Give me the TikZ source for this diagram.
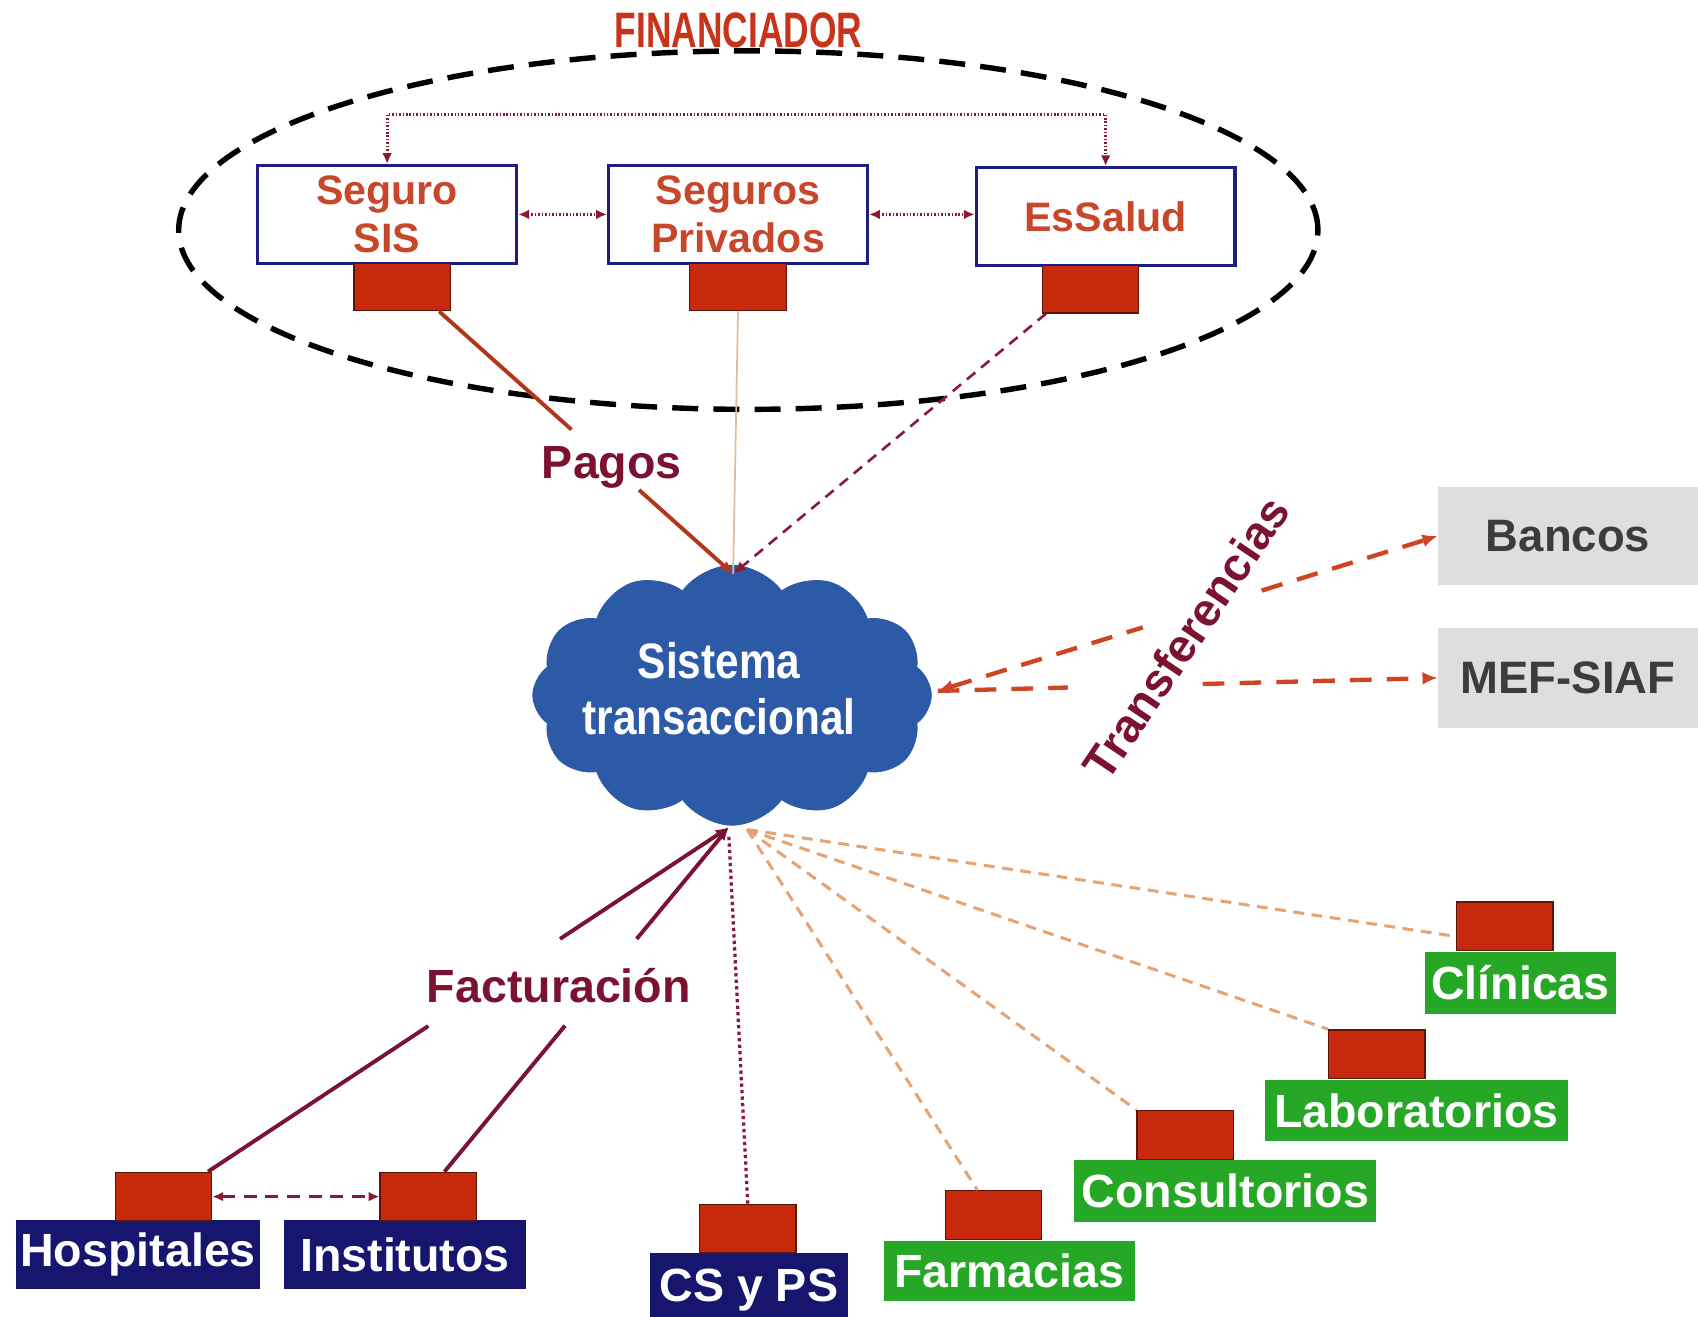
\documentclass[tikz,border=0pt]{standalone}
\usepackage{fontspec}
\setmainfont{Liberation Sans}
\usetikzlibrary{arrows.meta,shapes.geometric,shapes.symbols,calc}
\definecolor{navy}{HTML}{16166E}
\definecolor{boxred}{HTML}{C8290C}
\definecolor{sqedge}{HTML}{5A140A}
\definecolor{grn}{HTML}{26A826}
\definecolor{maroon}{HTML}{7A1230}
\definecolor{toptxt}{HTML}{C8472A}
\definecolor{topedge}{HTML}{1E1E82}
\definecolor{cloudblue}{HTML}{2D5AA6}
\definecolor{pagred}{HTML}{B3361C}
\definecolor{tanc}{HTML}{E6A474}
\definecolor{lighttan}{HTML}{E2BC9A}
\definecolor{trred}{HTML}{CF4524}
\definecolor{grayfill}{HTML}{DEDEDE}
\definecolor{graytxt}{HTML}{3C3C3C}
\definecolor{dotred}{HTML}{8A1A30}
\definecolor{titlered}{HTML}{C8341A}
\begin{document}
\begin{tikzpicture}[x=0.5pt,y=-0.5pt,
  tip/.style={-{Latex[length=6pt,width=5pt]}},
  finell/.style={draw=black, ellipse, line width=2.5pt, dash pattern=on 12pt off 7pt, minimum width=526pt, minimum height=165.5pt, inner sep=0pt},
  fintitle/.style={text=titlered, font=\fontsize{23}{26}\selectfont\bfseries, inner sep=0pt},
  topbox/.style={draw=topedge, line width=1.5pt, fill=white, minimum width=119.5pt, minimum height=45pt, inner sep=0pt, align=center, text=toptxt, font=\fontsize{19}{22}\selectfont\bfseries},
  redsq/.style={draw=sqedge, line width=0.6pt, fill=boxred, minimum width=44.5pt, minimum height=22.5pt, inner sep=0pt},
  navybox/.style={fill=navy, text=white, minimum height=31.5pt, inner sep=0pt, font=\fontsize{21.5}{24}\selectfont\bfseries},
  grnbox/.style={fill=grn, text=white, minimum height=28.5pt, inner sep=0pt, font=\fontsize{21.5}{24}\selectfont\bfseries},
  graybox/.style={fill=grayfill, text=graytxt, minimum width=120pt, minimum height=45.5pt, inner sep=0pt, font=\fontsize{21}{24}\selectfont\bfseries},
  lbl/.style={text=maroon, inner sep=0pt, font=\fontsize{21.5}{24}\selectfont\bfseries},
  cloudsty/.style={cloud, cloud puffs=12, cloud puff arc=110, aspect=1.55, fill=cloudblue, draw=cloudblue, minimum width=184pt, minimum height=120pt, inner sep=0pt},
  cloudtxt/.style={text=white, align=center, inner sep=0pt, font=\fontsize{23}{26}\selectfont\bfseries},
  dotline/.style={draw=dotred, line width=1.4pt, dash pattern=on 0.7pt off 0.9pt},
  pagline/.style={draw=pagred, line width=1.8pt},
  privline/.style={draw=lighttan, line width=0.8pt},
  essline/.style={draw=dotred, line width=1.2pt, dash pattern=on 5pt off 3.5pt},
  trline/.style={draw=trred, line width=2pt, dash pattern=on 10pt off 7pt},
  facline/.style={draw=maroon, line width=1.8pt},
  csline/.style={draw=dotred, line width=1.5pt, dash pattern=on 1.5pt off 1.5pt},
  hiline/.style={draw=dotred, line width=1.5pt, dash pattern=on 6pt off 4pt},
  tanline/.style={draw=tanc, line width=1.4pt, dash pattern=on 5pt off 3.5pt}
]
\useasboundingbox (0,0) rectangle (1568,1216);
\fill[white] (0,0) rectangle (1568,1216);

% Financiador
\node[finell] (fin) at (691,212.5) {};
\node[fintitle] (title) at (682,28) {\scalebox{0.71}[1]{FINANCIADOR}};
\node[topbox] (sis) at (357.5,198) {Seguro\\SIS};
\node[topbox] (priv) at (681.5,198) {Seguros\\Privados};
\node[topbox] (ess) at (1021,200) {EsSalud};
\node[redsq, minimum height=22pt] (sissq) at (371.5,265) {};
\node[redsq, minimum height=22pt] (privsq) at (681.5,265) {};
\node[redsq, minimum height=22pt] (esssq) at (1007,267) {};

% Cloud
\node[cloudsty] (cloud) at (676,642) {};
\node[cloudtxt] (ctxt) at (664,636) {\scalebox{0.85}[1]{Sistema}\\\scalebox{0.85}[1]{transaccional}};
\coordinate (cT) at (677,530);
\coordinate (cB) at (673,764);
\coordinate (cB2) at (690,766);
\coordinate (cR) at (866,638);

% Labels
\node[lbl] (pagos) at (565,432) {Pagos};
\node[lbl] (fact) at (516,910) {Facturación};
\node[lbl, rotate=56] (transf) at (1095,589) {Transferencias};

% Right boxes
\node[graybox] (bancos) at (1448,495) {Bancos};
\node[graybox, minimum height=46pt] (mef) at (1448,626) {MEF-SIAF};

% Bottom
\node[navybox, minimum width=112.5pt] (hos) at (127.5,1158.5) {Hospitales};
\node[redsq] (hossq) at (151,1105) {};
\node[navybox, minimum width=112pt] (ins) at (374,1158.5) {Institutos};
\node[redsq] (inssq) at (395.5,1105) {};
\node[navybox, minimum width=91.5pt, minimum height=34pt] (cs) at (691.5,1191) {CS y PS};
\node[redsq] (cssq) at (690.5,1134.5) {};
\node[grnbox, minimum width=116pt, minimum height=27.5pt] (far) at (932,1173.5) {Farmacias};
\node[redsq] (farsq) at (917.5,1122) {};
\node[grnbox, minimum width=139.5pt] (con) at (1131.5,1099.5) {Consultorios};
\node[redsq] (consq) at (1094.5,1048) {};
\node[grnbox, minimum width=140pt] (lab) at (1308,1025.5) {Laboratorios};
\node[redsq] (labsq) at (1271.5,973.5) {};
\node[grnbox, minimum width=88pt] (cli) at (1404,907.5) {Clínicas};
\node[redsq] (clisq) at (1389.5,855.5) {};

% Top connectors
\draw[dotline, {Latex[length=5pt,width=4.5pt]}-{Latex[length=5pt,width=4.5pt]}] (sis.north) -- ++(0,-46) -| (ess.north);
\draw[dotline, {Latex[length=5pt,width=4.5pt]}-{Latex[length=5pt,width=4.5pt]}] (sis.east) -- (priv.west);
\draw[dotline, {Latex[length=5pt,width=4.5pt]}-{Latex[length=5pt,width=4.5pt]}] (priv.east) -- (priv.east -| ess.west);

% To cloud
\coordinate (sisout) at ([xshift=-5.5pt]sissq.south east);
\draw[pagline] (sisout) -- ($(sisout)!0.45!(cT)$);
\draw[pagline, tip] ($(sisout)!0.68!(cT)$) -- (cT);
\draw[privline] (privsq.south) -- (cT);
\draw[essline, tip] ([xshift=2pt]esssq.south west) -- (cT);

% Transferencias
\draw[trline, {Latex[length=7pt,width=6pt]}-] (cR) -- ($(cR)!0.41!(bancos.west)$);
\draw[trline, -{Latex[length=7pt,width=6pt]}] ($(cR)!0.648!(bancos.west)$) -- (bancos.west);
\draw[trline] (cR) -- ($(cR)!0.26!(mef.west)$);
\draw[trline, -{Latex[length=7pt,width=6pt]}] ($(cR)!0.53!(mef.west)$) -- (mef.west);

% Facturacion
\coordinate (hosout) at ([xshift=-2pt]hossq.north east);
\coordinate (insout) at ([xshift=7.5pt]inssq.north);
\draw[facline] (hosout) -- ($(hosout)!0.423!(cB)$);
\draw[facline, tip] ($(hosout)!0.676!(cB)$) -- (cB);
\draw[facline] (insout) -- ($(insout)!0.424!(cB)$);
\draw[facline, tip] ($(insout)!0.676!(cB)$) -- (cB);
\draw[hiline, {Latex[length=5pt,width=4.5pt]}-{Latex[length=5pt,width=4.5pt]}] (hossq.east) -- (inssq.west);
\draw[csline] (cssq.north) -- ([yshift=-4pt]cB);

% Private providers
\draw[tanline] (cB2) -- ([xshift=-7.5pt]farsq.north);
\draw[tanline] (cB2) -- (consq.north west);
\draw[tanline] (cB2) -- (labsq.north west);
\draw[tanline] (cB2) -- ($(clisq.north west)!0.7!(clisq.south west)$);
\end{tikzpicture}
\end{document}
